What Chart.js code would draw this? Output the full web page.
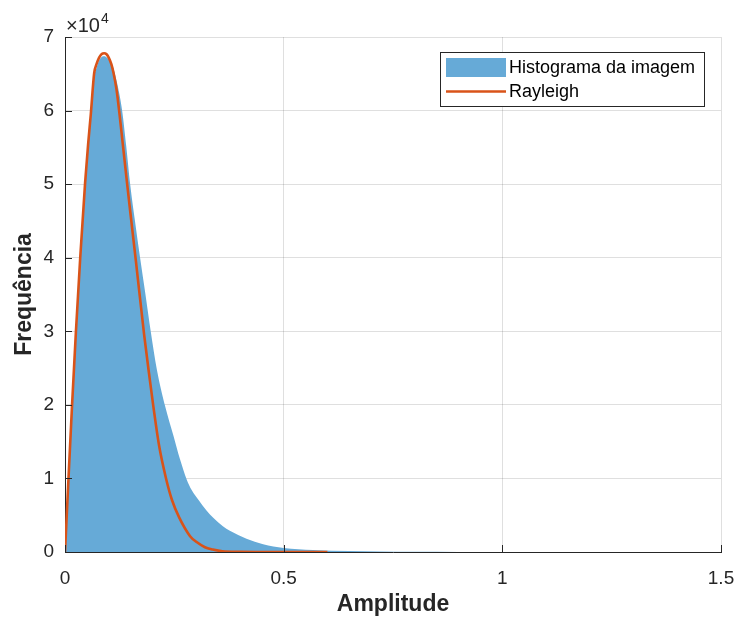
<!DOCTYPE html>
<html>
<head>
<meta charset="utf-8">
<script src="https://cdn.jsdelivr.net/npm/chart.js@4"></script>
<style>
  html, body { margin: 0; padding: 0; background: #ffffff; }
  #wrap { width: 737px; height: 618px; position: relative; }
</style>
</head>
<body>
<div id="wrap"><canvas id="c" width="737" height="618"></canvas></div>
<script>
// ---- data ----
const histLabel = 'Histograma da imagem';
const rayLabel = 'Rayleigh';
const histX = [0, 0.0075, 0.016, 0.025, 0.035, 0.046, 0.059, 0.0667, 0.072, 0.078, 0.084, 0.09, 0.096, 0.102, 0.108, 0.114, 0.12, 0.1306, 0.14, 0.149, 0.16, 0.1717, 0.184, 0.196, 0.21, 0.229, 0.248, 0.263, 0.278, 0.29, 0.305, 0.324, 0.339, 0.361, 0.377, 0.415, 0.453, 0.5, 0.567, 0.65, 0.72, 0.8, 0.9, 0.95];
const histY = [0, 9000, 19300, 29500, 39700, 49800, 59000, 64500, 65800, 66800, 67300, 67400, 67200, 66700, 66200, 65000, 63500, 60000, 55200, 50000, 45000, 40000, 35000, 30000, 24800, 19800, 15800, 12600, 9900, 8400, 7100, 5600, 4650, 3500, 2900, 1800, 1050, 560, 260, 120, 60, 30, 10, 0];
const rayX = [0, 0.0075, 0.016, 0.025, 0.035, 0.046, 0.053, 0.059, 0.0667, 0.072, 0.078, 0.084, 0.0895, 0.095, 0.1, 0.106, 0.111, 0.118, 0.126, 0.141, 0.152, 0.162, 0.181, 0.194, 0.202, 0.215, 0.231, 0.245, 0.261, 0.286, 0.301, 0.32, 0.338, 0.36, 0.4, 0.45, 0.6];
const rayY = [0, 9400, 19800, 30000, 40200, 50200, 55500, 59500, 65100, 66300, 67200, 67700, 67800, 67650, 67200, 66300, 65100, 62800, 58800, 50600, 44800, 39600, 29500, 23400, 19800, 14500, 10000, 7000, 4700, 2150, 1350, 650, 340, 100, 20, 0, 0];
const xTicks = [0, 0.5, 1, 1.5];
const yTicks = [0, 10000, 20000, 30000, 40000, 50000, 60000, 70000];
const yExponentBase = '\u00d710';
const yExponent = '4';
const xTitle = 'Amplitude';
const yTitle = 'Frequência';

const histColor = 'rgb(102,170,215)';
const rayColor = 'rgb(217,83,25)';
const axisColor = 'rgb(38,38,38)';
const gridColor = 'rgba(38,38,38,0.15)';
const FONT = '"Liberation Sans", Arial, Helvetica, sans-serif';

const histData = histX.map((x, i) => ({ x: x, y: histY[i] }));
const rayData = rayX.map((x, i) => ({ x: x, y: rayY[i] }));

const extrasPlugin = {
  id: 'extras',
  afterDraw(chart) {
    const ctx = chart.ctx;
    const xs = chart.scales.x, ys = chart.scales.y;
    const area = chart.chartArea;
    ctx.save();
    // inward tick marks
    ctx.strokeStyle = axisColor;
    ctx.lineWidth = 1;
    ctx.beginPath();
    yTicks.forEach(v => {
      const p = Math.round(ys.getPixelForValue(v)) + 0.5;
      ctx.moveTo(area.left, p); ctx.lineTo(area.left + 7, p);
    });
    xTicks.forEach(v => {
      const p = Math.round(xs.getPixelForValue(v)) + 0.5;
      ctx.moveTo(p, area.bottom); ctx.lineTo(p, area.bottom - 7);
    });
    ctx.stroke();
    // exponent label
    ctx.fillStyle = axisColor;
    ctx.textBaseline = 'alphabetic';
    ctx.textAlign = 'left';
    ctx.font = '20px ' + FONT;
    ctx.fillText(yExponentBase, area.left + 1, area.top - 5);
    const w = ctx.measureText(yExponentBase).width;
    ctx.font = '14px ' + FONT;
    ctx.fillText(yExponent, area.left + 2 + w, area.top - 14);
    // legend
    const lx = 440.5, ly = 52.5, lw = 264, lh = 54;
    ctx.fillStyle = '#ffffff';
    ctx.fillRect(lx, ly, lw, lh);
    ctx.strokeStyle = axisColor;
    ctx.lineWidth = 1;
    ctx.strokeRect(lx, ly, lw, lh);
    ctx.fillStyle = histColor;
    ctx.fillRect(446, 58, 60, 19);
    ctx.strokeStyle = rayColor;
    ctx.lineWidth = 2.5;
    ctx.beginPath();
    ctx.moveTo(446, 91.5); ctx.lineTo(506, 91.5);
    ctx.stroke();
    ctx.fillStyle = '#000000';
    ctx.font = '18px ' + FONT;
    ctx.textBaseline = 'middle';
    ctx.fillText(chart.data.datasets[1].label, 509, 68);
    ctx.fillText(chart.data.datasets[0].label, 509, 92);
    ctx.restore();
  }
};

new Chart(document.getElementById('c'), {
  type: 'scatter',
  data: {
    datasets: [
      {
        label: rayLabel,
        data: rayData,
        showLine: true,
        borderColor: rayColor,
        borderWidth: 2.6,
        pointRadius: 0,
        fill: false,
        cubicInterpolationMode: 'monotone',
        order: 1
      },
      {
        label: histLabel,
        data: histData,
        showLine: true,
        borderWidth: 0,
        borderColor: 'rgba(0,0,0,0)',
        backgroundColor: histColor,
        pointRadius: 0,
        fill: 'origin',
        cubicInterpolationMode: 'monotone',
        order: 2
      }
    ]
  },
  options: {
    responsive: false,
    animation: false,
    devicePixelRatio: 1,
    layout: { padding: { top: 37, right: 16, left: 0, bottom: 0 } },
    plugins: {
      legend: { display: false },
      tooltip: { enabled: false }
    },
    scales: {
      x: {
        type: 'linear',
        min: 0, max: 1.5,
        z: 1,
        afterFit(s) { s.height = 66; s.paddingLeft = 0; s.paddingRight = 0; },
        afterBuildTicks(s) { s.ticks = xTicks.map(v => ({ value: v })); },
        ticks: {
          color: axisColor,
          font: { family: FONT, size: 19 },
          padding: 15,
          maxRotation: 0,
          callback: v => String(v)
        },
        grid: { color: gridColor, lineWidth: 1, drawTicks: false },
        border: { display: true, color: axisColor, width: 1 },
        title: {
          display: true, text: xTitle, color: axisColor,
          font: { family: FONT, size: 23, weight: 'bold' },
          padding: { top: -5, bottom: 0 }
        }
      },
      y: {
        type: 'linear',
        min: 0, max: 70000,
        z: 1,
        afterFit(s) { s.width = 65; s.paddingTop = 0; s.paddingBottom = 0; },
        afterBuildTicks(s) { s.ticks = yTicks.map(v => ({ value: v })); },
        ticks: {
          color: axisColor,
          font: { family: FONT, size: 19 },
          padding: 11,
          callback: v => String(v / 10000)
        },
        grid: { color: gridColor, lineWidth: 1, drawTicks: false },
        border: { display: true, color: axisColor, width: 1 },
        title: {
          display: true, text: yTitle, color: axisColor,
          font: { family: FONT, size: 23, weight: 'bold' },
          padding: { top: 11, bottom: 0 }
        }
      }
    }
  },
  plugins: [extrasPlugin]
});
</script>
</body>
</html>
